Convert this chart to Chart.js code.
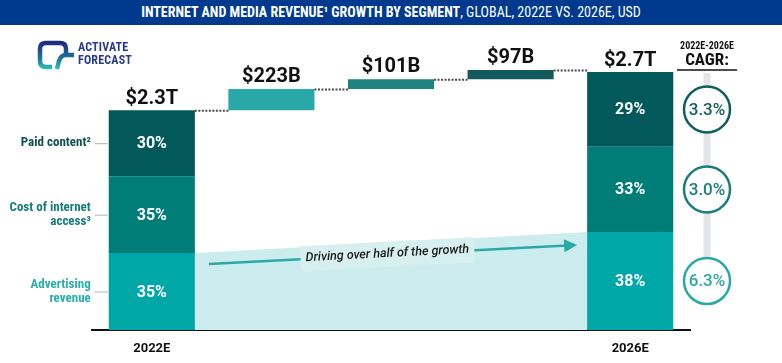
<!DOCTYPE html>
<html><head><meta charset="utf-8">
<script src="https://cdn.jsdelivr.net/npm/chart.js@4/dist/chart.umd.min.js"></script>
<style>
html,body{margin:0;padding:0;background:#fff;}
#wrap{position:relative;width:782px;height:363px;overflow:hidden;}
#c{position:absolute;left:0;top:0;}
#title{position:absolute;left:0;top:0;width:782px;height:25px;background:#003a8f;color:#fff;font:14px/25px 'Liberation Sans Narrow','Roboto Condensed','DejaVu Sans Condensed',sans-serif;text-align:center;white-space:nowrap;}
#title b{font-weight:bold;}
#logo{position:absolute;left:37px;top:40px;}
#logotext{position:absolute;left:78px;top:41px;color:#2a3990;font:bold 12px/13px 'Liberation Sans Narrow','Roboto Condensed',sans-serif;letter-spacing:0.2px;}
</style></head>
<body><div id="wrap">
<canvas id="c" width="782" height="363"></canvas>
<div id="title"><b>INTERNET AND MEDIA REVENUE¹ GROWTH BY SEGMENT</b>, GLOBAL, 2022E VS. 2026E, USD</div>
<svg id="logo" width="38" height="31" viewBox="0 0 38 31">
<defs><linearGradient id="g" x1="0" y1="0" x2="0" y2="1"><stop offset="0" stop-color="#1d2f7c"/><stop offset="0.55" stop-color="#1f6f9c"/><stop offset="1" stop-color="#2cc0bc"/></linearGradient></defs>
<path d="M15 27 H9 Q3 27 3 21 V9 Q3 3 9 3 H23 Q29 3 29 9 V15 H37 M29 15 Q24 15 22 21 L20 29" fill="none" stroke="url(#g)" stroke-width="4.5" stroke-linejoin="round"/>
</svg>
<div id="logotext">ACTIVATE<br>FORECAST</div>
</div>
<script>
// ---- data ----
const categories = ['2022E', 'Advertising', 'Cost of internet access', 'Paid content', '2026E'];
const totalsT = [2.3, 2.7];                 // $T
const segmentNames = [['Advertising','revenue'], ['Cost of internet','access³'], ['Paid content²']];
const share2022 = [35, 35, 30];             // advertising, cost of access, paid content (%)
const share2026 = [38, 33, 29];
const incrementsB = [223, 101, 97];         // $B growth: advertising, access, paid content
const cagr = ['6.3%', '3.0%', '3.3%'];

// ---- styles ----
const segColors = ['#00a7a7', '#017d78', '#03595a'];
const incColors = ['#28a9a8', '#1f837f', '#125a5b'];
const labelColors = ['#2aaeac', '#177b77', '#0e5050'];
const circleColors = ['#2aa8a6', '#1a7e7a', '#115e5e'];
const COND = "'Liberation Sans Narrow','Roboto Condensed','DejaVu Sans Condensed',sans-serif";

// ---- build datasets ----
const n = categories.length;
const datasets = [];
let base22 = 0, base26 = 0, running = totalsT[0];
for (let s = 0; s < 3; s++) {
  const data = new Array(n).fill(null);
  const colors = new Array(n).fill(segColors[s]);
  const v22 = totalsT[0] * share2022[s] / 100;
  const v26 = totalsT[1] * share2026[s] / 100;
  data[0] = [base22, base22 + v22]; base22 += v22;
  data[n - 1] = [base26, base26 + v26]; base26 += v26;
  const inc = incrementsB[s] / 1000;
  data[s + 1] = [running, running + inc]; running += inc;
  colors[s + 1] = incColors[s];
  datasets.push({ label: segmentNames[s].join(' '), data, backgroundColor: colors, borderWidth: 0,
    barPercentage: 0.72, categoryPercentage: 1.0 });
}

const ann = {
  id: 'ann',
  beforeDatasetsDraw(chart) {
    const ctx = chart.ctx;
    const adv = chart.getDatasetMeta(0).data;
    const paid = chart.getDatasetMeta(2).data;
    const b0 = adv[0], b4 = adv[n - 1];
    ctx.save();
    ctx.fillStyle = '#cdeced';
    ctx.beginPath();
    ctx.moveTo(b0.x + b0.width / 2, b0.y);
    ctx.lineTo(b4.x - b4.width / 2, b4.y);
    ctx.lineTo(b4.x - b4.width / 2, b4.base);
    ctx.lineTo(b0.x + b0.width / 2, b0.base);
    ctx.closePath(); ctx.fill();
    // rail behind CAGR circles
    const cx = chart.chartArea.right + 17;
    const bottomC = (b4.y + b4.base) / 2 - 24;
    ctx.fillStyle = '#e4e5e7';
    ctx.fillRect(cx - 3.5, paid[n - 1].y + 1, 7, bottomC - paid[n - 1].y);
    ctx.restore();
  },
  afterDatasetsDraw(chart) {
    const ctx = chart.ctx;
    const metas = [0, 1, 2].map(i => chart.getDatasetMeta(i).data);
    ctx.save();
    // dotted connectors
    ctx.strokeStyle = '#4a4a4a'; ctx.lineWidth = 2; ctx.setLineDash([2, 1.5]);
    const barAt = i => (i === 0 || i === n - 1) ? metas[0][i] : metas[i - 1][i];
    const topAt = i => (i === 0 || i === n - 1) ? metas[2][i].y : barAt(i).y;
    for (let i = 0; i < n - 1; i++) {
      const a = barAt(i), b = barAt(i + 1);
      const yy = (i === 0) ? b.base : topAt(i);
      ctx.beginPath(); ctx.moveTo(a.x + a.width / 2, yy + 0.5); ctx.lineTo(b.x - b.width / 2, yy + 0.5); ctx.stroke();
    }
    ctx.setLineDash([]);
    // value labels above
    ctx.fillStyle = '#111'; ctx.font = "bold 20px Roboto"; ctx.textAlign = 'center'; ctx.textBaseline = 'alphabetic';
    ctx.fillText('$' + totalsT[0] + 'T', metas[0][0].x, metas[2][0].y - 6);
    ctx.fillText('$' + totalsT[1] + 'T', metas[0][n - 1].x, metas[2][n - 1].y - 6);
    for (let s = 0; s < 3; s++) {
      const b = metas[s][s + 1];
      ctx.fillText('$' + incrementsB[s] + 'B', b.x, b.y - 7);
    }
    // segment percentages
    ctx.fillStyle = '#fff'; ctx.font = "bold 16px Roboto"; ctx.textBaseline = 'middle';
    for (let s = 0; s < 3; s++) {
      const a = metas[s][0], b = metas[s][n - 1];
      ctx.fillText(share2022[s] + '%', a.x, (a.y + a.base) / 2 + 1);
      ctx.fillText(share2026[s] + '%', b.x, (b.y + b.base) / 2 + 1);
    }
    // left segment labels
    ctx.textAlign = 'right'; ctx.font = "bold 13px " + COND;
    for (let s = 0; s < 3; s++) {
      const a = metas[s][0];
      const cy = (a.y + a.base) / 2;
      const left = a.x - a.width / 2;
      ctx.strokeStyle = '#b0b0b0'; ctx.lineWidth = 1;
      ctx.beginPath(); ctx.moveTo(left - 14, cy + 0.5); ctx.lineTo(left - 1, cy + 0.5); ctx.stroke();
      const lines = segmentNames[s];
      ctx.fillStyle = labelColors[s];
      const lh = 14.5;
      lines.forEach((t, k) => ctx.fillText(t, left - 18, cy + (k - (lines.length - 1) / 2) * lh));
    }
    // CAGR header + circles
    const cx = chart.chartArea.right + 17;
    ctx.textAlign = 'center'; ctx.fillStyle = '#111';
    ctx.font = "bold 10px " + COND; ctx.fillText('2022E-2026E', cx, 46);
    ctx.font = "bold 17px " + COND; ctx.fillText('CAGR:', cx, 61);
    ctx.strokeStyle = '#111'; ctx.lineWidth = 1.5;
    ctx.beginPath(); ctx.moveTo(cx - 30, 70); ctx.lineTo(cx + 30, 70); ctx.stroke();
    for (let s = 0; s < 3; s++) {
      const b = metas[s][n - 1];
      const cy = (b.y + b.base) / 2;
      ctx.beginPath(); ctx.arc(cx, cy, 23, 0, Math.PI * 2);
      ctx.fillStyle = '#fff'; ctx.fill();
      ctx.strokeStyle = circleColors[s]; ctx.lineWidth = 2.5; ctx.stroke();
      ctx.fillStyle = circleColors[s]; ctx.font = "500 17px Roboto";
      ctx.fillText(cagr[s], cx, cy + 1);
    }
    // arrow with label
    const b0 = metas[0][0], b4 = metas[0][n - 1];
    const x1 = b0.x + b0.width / 2 + 14, y1 = b0.y + 11;
    const x2 = b4.x - b4.width / 2 - 10, y2 = b4.y + 13;
    const ang = Math.atan2(y2 - y1, x2 - x1);
    const L = Math.hypot(x2 - x1, y2 - y1);
    ctx.translate(x1, y1); ctx.rotate(ang);
    ctx.strokeStyle = '#2aa9a8'; ctx.lineWidth = 2.5;
    ctx.beginPath(); ctx.moveTo(0, 0); ctx.lineTo(L - 10, 0); ctx.stroke();
    ctx.fillStyle = '#2aa9a8';
    ctx.beginPath(); ctx.moveTo(L, 0); ctx.lineTo(L - 13, -6.5); ctx.lineTo(L - 13, 6.5); ctx.closePath(); ctx.fill();
    const tx = L * 0.485;
    ctx.fillStyle = '#d8efef';
    ctx.fillRect(tx - 87, -13, 174, 25);
    ctx.fillStyle = '#1a1a1a'; ctx.font = "italic 500 12.5px Roboto"; ctx.textBaseline = 'middle';
    ctx.fillText('Driving over half of the growth', tx, -1);
    ctx.restore();
  }
};

new Chart(document.getElementById('c'), {
  type: 'bar',
  data: { labels: categories, datasets },
  plugins: [ann],
  options: {
    responsive: false, animation: false,
    layout: { padding: { left: 92, right: 92, top: 30, bottom: 0 } },
    plugins: { legend: { display: false }, tooltip: { enabled: false } },
    scales: {
      x: {
        stacked: true,
        grid: { display: false, drawTicks: false },
        border: { display: true, color: '#111', width: 2 },
        ticks: {
          padding: 11, color: '#111', font: { family: 'Roboto', size: 13, weight: 'bold' }, maxRotation: 0, autoSkip: false,
          callback: function (v, i) { return (i === 0 || i === n - 1) ? this.getLabelForValue(v) : ''; }
        },
        afterFit: s => { s.height = 33; }
      },
      y: { display: false, stacked: false, min: 0, max: 3.14 }
    }
  }
});
</script>
</body></html>
